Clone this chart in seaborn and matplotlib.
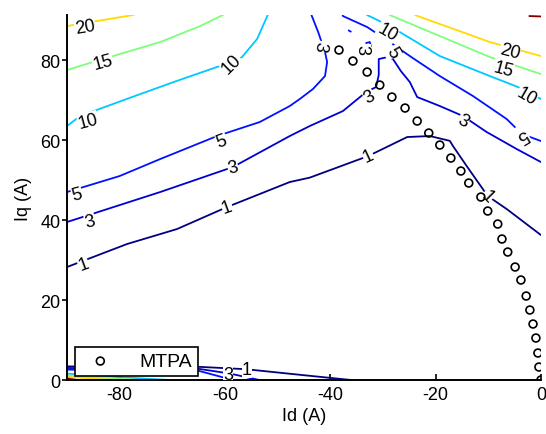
import numpy as np
import pandas as pd
import matplotlib
matplotlib.use("Agg")
import matplotlib.pyplot as plt
import seaborn as sns

# contour levels (jet colours, MATLAB style)
levels = [1, 3, 5, 10, 15, 20, 30]

# contour lines: Id (A), Iq (A)
l1_main_x = [-90, -78.6, -69.1, -59.6, -47.7, -43.9, -32.8, -25.4, -21.1, -17.3, -16.7, -14.1, -10.1, -6.5, 0]
l1_main_y = [28.25, 34, 37.75, 43.25, 49.5, 50.6, 56, 60.75, 61, 59.8, 58.5, 53.5, 46, 42.75, 36.25]
l1_bot_x = [-90, -65, -56, -45, -36]
l1_bot_y = [3.4, 3.3, 2.7, 1.2, 0]

l3_main_x = [-90, -72.3, -58.5, -47.7, -43.9, -37.6, -33.2, -31.3, -30.8, -30.8, -29.1, -28.1, -26.6,
             -24.9, -23.5, -21.1, -19.2, -14.8, -10.3, -4.6, 0]
l3_main_y = [39.5, 47, 53.25, 61, 63.5, 67.25, 72, 73.25, 76.25, 80.25, 80.75, 80.25, 77.25,
             74.5, 70.75, 69.5, 68.5, 66, 62, 57.75, 54.5]
l3_bot_x = [-90, -65, -59, -53.5]
l3_bot_y = [3.0, 2.8, 1.6, 0]

l5_left_x = [-90, -80, -72.3, -61.5, -53.4, -47.7, -45.8, -43.3, -41, -40.6, -41, -42.3, -43.5, -44]
l5_left_y = [47, 51, 55.25, 61, 64.5, 68.5, 70.25, 72.75, 76, 79.5, 82, 87, 91, 93]
l5_right_x = [-38, -37.6, -33, -28.7, -24.9, -19.2, -12.9, -6.5, -3.6, 0]
l5_right_y = [93, 91, 88.25, 84.5, 81, 76, 71, 65.25, 61.5, 59.75]
l5_hook_x = [-33.2, -32.5, -32.3, -32.7]
l5_hook_y = [84.25, 84.5, 83.5, 82.75]
l5_dot_x = [-36.5, -36.1]
l5_dot_y = [87.4, 87.1]
l5_bot_x = [-90, -65, -58.5]
l5_bot_y = [2.6, 2.3, 0]

l10_left_x = [-90, -87.5, -78.6, -69.1, -61, -56.8, -53.9, -51.8, -51.5]
l10_left_y = [63.5, 66, 70.3, 74.8, 78.5, 80.7, 85.25, 91.5, 93]
l10_right_x = [-34, -33, -28.7, -19.2, -9.7, -3.4, 0]
l10_right_y = [93, 91.25, 88.5, 81, 76, 72.75, 70.25]
l10_bot_x = [-90, -80, -70.4]
l10_bot_y = [1.6, 0.7, 0]

l15_left_x = [-90, -85.1, -72.3, -64.7, -60.4, -59.8]
l15_left_y = [77.5, 79.5, 84.5, 88.5, 91.25, 93]
l15_right_x = [-30, -28.7, -19.2, -9.7, 0]
l15_right_y = [93, 91.25, 86, 80.75, 76.5]
l15_bot_x = [-90, -82, -75.6]
l15_bot_y = [1.1, 0.4, 0]

l20_left_x = [-90, -77.5, -76]
l20_left_y = [88.5, 91.25, 92]
l20_right_x = [-25, -23.4, -9.7, 0]
l20_right_y = [92, 91, 84.5, 81]
l20_bot_x = [-90, -85, -79.4]
l20_bot_y = [0.8, 0.3, 0]

l30_top_x = [-2.2, 0]
l30_top_y = [91.0, 90.9]
l30_bot_x = [-90, -88]
l30_bot_y = [0.4, 0]

segments = [
    (1, l1_main_x, l1_main_y), (1, l1_bot_x, l1_bot_y),
    (3, l3_main_x, l3_main_y), (3, l3_bot_x, l3_bot_y),
    (5, l5_left_x, l5_left_y), (5, l5_right_x, l5_right_y), (5, l5_hook_x, l5_hook_y),
    (5, l5_dot_x, l5_dot_y), (5, l5_bot_x, l5_bot_y),
    (10, l10_left_x, l10_left_y), (10, l10_right_x, l10_right_y), (10, l10_bot_x, l10_bot_y),
    (15, l15_left_x, l15_left_y), (15, l15_right_x, l15_right_y), (15, l15_bot_x, l15_bot_y),
    (20, l20_left_x, l20_left_y), (20, l20_right_x, l20_right_y), (20, l20_bot_x, l20_bot_y),
    (30, l30_top_x, l30_top_y), (30, l30_bot_x, l30_bot_y),
]

# inline contour labels
label_x = [-86.6, -83.2, -86.0, -58.7, -60.6, -58.5, -88.1, -85.6, -86.9, -59.6, -32.8, -10.1,
           -14.8, -3.6, -2.7, -7.2, -5.9, -29.2, -28.1, -32.5, -34.0, -42.0, -59.4, -55.8]
label_y = [88.25, 79.5, 64.75, 79.0, 59.75, 53.25, 46.5, 39.75, 29.0, 43.25, 56.0, 46.0,
           64.75, 61.5, 71.0, 77.75, 82.25, 87.0, 82.0, 70.75, 82.75, 83.5, 1.5, 2.75]
label_txt = ["20", "15", "10", "10", "5", "3", "5", "3", "1", "1", "1", "1",
             "3", "5", "10", "15", "20", "10", "5", "3", "3", "3", "3", "1"]
label_rot = [10, 15, 15, 45, 20, 15, 15, 15, 20, 20, 25, -45,
             -30, -150, -30, -15, -15, -30, -60, 30, -90, -100, 0, 0]

# MTPA trajectory
mtpa_id = [-38.35, -35.7, -33.0, -30.6, -28.3, -25.8, -23.5, -21.3, -19.2, -17.1, -15.2, -13.7,
           -11.4, -10.1, -8.2, -7.4, -6.3, -4.9, -3.8, -2.8, -2.1, -1.5, -0.95, -0.57, -0.38, 0.0]
mtpa_iq = [82.5, 79.75, 77.0, 73.75, 70.75, 68.0, 64.75, 61.75, 58.75, 55.5, 52.25, 49.25,
           45.75, 42.25, 39.0, 35.25, 32.0, 28.25, 25.0, 21.0, 17.5, 14.0, 10.5, 6.75, 3.25, 0.0]

rows = []
for k, (lev, xs, ys) in enumerate(segments):
    for xv, yv in zip(xs, ys):
        rows.append({"Id": xv, "Iq": yv, "level": lev, "seg": k})
lines_df = pd.DataFrame(rows)
mtpa_df = pd.DataFrame({"Id": mtpa_id, "Iq": mtpa_iq})

# jet colour map, top of the scale slightly below the highest level
cmap = plt.get_cmap("jet")
palette = {lev: cmap(min(1.0, (lev - levels[0]) / 28.0)) for lev in levels}

sns.set_style("white")
plt.rcParams["font.family"] = ["Liberation Sans", "DejaVu Sans"]
plt.rcParams["text.color"] = "black"
plt.rcParams["axes.labelcolor"] = "black"
plt.rcParams["axes.unicode_minus"] = False

fig = plt.figure(figsize=(5.46, 4.35), dpi=100)
ax = fig.add_axes([0.1227, 0.1241, 0.868, 0.839])

sns.lineplot(data=lines_df, x="Id", y="Iq", hue="level", units="seg", estimator=None,
             sort=False, palette=palette, linewidth=1.3, legend=False, ax=ax)

for xv, yv, t, r in zip(label_x, label_y, label_txt, label_rot):
    ax.text(xv, yv, t, fontsize=13, color="black", rotation=r, rotation_mode="anchor",
            ha="center", va="center", bbox=dict(fc="white", ec="none", pad=0.3),
            zorder=3, clip_on=True)

sns.scatterplot(data=mtpa_df, x="Id", y="Iq", marker="o", s=32, facecolor="none",
                edgecolor="black", linewidth=1.2, label="MTPA", zorder=4, ax=ax)

ax.set_xlim(-90, 0)
ax.set_ylim(0, 91.25)
ax.set_xticks([-80, -60, -40, -20, 0])
ax.set_yticks([0, 20, 40, 60, 80])
ax.set_xlabel("Id (A)", fontsize=13, labelpad=3)
ax.set_ylabel("Iq (A)", fontsize=13, labelpad=6)
ax.tick_params(axis="both", labelsize=13, colors="black", width=1.2)
ax.tick_params(axis="x", direction="in", length=4, pad=4)
ax.tick_params(axis="y", direction="out", length=3.5, pad=1)
ax.xaxis.set_ticks_position("bottom")
ax.yaxis.set_ticks_position("left")
for side in ["top", "right"]:
    ax.spines[side].set_visible(False)
for side in ["left", "bottom"]:
    ax.spines[side].set_color("black")
    ax.spines[side].set_linewidth(1.4)

leg = ax.legend(loc="lower left", bbox_to_anchor=(0.017, 0.011), borderaxespad=0, fancybox=False,
                framealpha=1, edgecolor="black", fontsize=14, handletextpad=1.0, borderpad=0.3,
                handlelength=2.0)
leg.get_frame().set_linewidth(1.2)
leg.set_zorder(5)

fig.savefig("out.png", dpi=100)
